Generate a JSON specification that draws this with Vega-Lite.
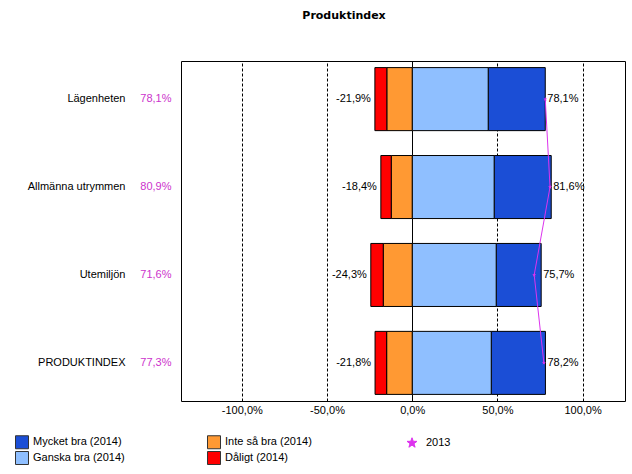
{
  "$schema": "https://vega.github.io/schema/vega-lite/v6.json",
  "autosize": "none",
  "width": 444,
  "height": 340,
  "padding": {"left": 181, "top": 61, "right": 7, "bottom": 73},
  "title": {"text": "Produktindex", "font": "DejaVu Sans", "fontSize": 11, "fontWeight": "bold", "anchor": "middle", "frame": "group", "dx": -59, "offset": 40, "color": "black"},
  "config": {
    "locale": {"number": {"decimal": ",", "thousands": " ", "grouping": [3], "currency": ["", " kr"], "minus": "-"}},
    "view": {"stroke": "black", "strokeWidth": 1},
    "font": "Liberation Sans",
    "axis": {"labelFont": "Liberation Sans", "labelFontSize": 11, "labelColor": "black"},
    "legend": {"labelFont": "Liberation Sans", "labelFontSize": 11, "labelColor": "black"}
  },
  "datasets": {
    "segs": [
      {"cat": "Lägenheten", "grade": "Mycket bra (2014)", "v": 0.335, "o": 2},
      {"cat": "Lägenheten", "grade": "Ganska bra (2014)", "v": 0.446, "o": 1},
      {"cat": "Lägenheten", "grade": "Inte så bra (2014)", "v": -0.149, "o": 1},
      {"cat": "Lägenheten", "grade": "Dåligt (2014)", "v": -0.070, "o": 2},
      {"cat": "Allmänna utrymmen", "grade": "Mycket bra (2014)", "v": 0.335, "o": 2},
      {"cat": "Allmänna utrymmen", "grade": "Ganska bra (2014)", "v": 0.481, "o": 1},
      {"cat": "Allmänna utrymmen", "grade": "Inte så bra (2014)", "v": -0.123, "o": 1},
      {"cat": "Allmänna utrymmen", "grade": "Dåligt (2014)", "v": -0.061, "o": 2},
      {"cat": "Utemiljön", "grade": "Mycket bra (2014)", "v": 0.264, "o": 2},
      {"cat": "Utemiljön", "grade": "Ganska bra (2014)", "v": 0.493, "o": 1},
      {"cat": "Utemiljön", "grade": "Inte så bra (2014)", "v": -0.170, "o": 1},
      {"cat": "Utemiljön", "grade": "Dåligt (2014)", "v": -0.073, "o": 2},
      {"cat": "PRODUKTINDEX", "grade": "Mycket bra (2014)", "v": 0.318, "o": 2},
      {"cat": "PRODUKTINDEX", "grade": "Ganska bra (2014)", "v": 0.464, "o": 1},
      {"cat": "PRODUKTINDEX", "grade": "Inte så bra (2014)", "v": -0.150, "o": 1},
      {"cat": "PRODUKTINDEX", "grade": "Dåligt (2014)", "v": -0.068, "o": 2}
    ],
    "tot": [
      {"cat": "Lägenheten", "rank": 1, "neg": -0.219, "pos": 0.781, "y2013": 0.781},
      {"cat": "Allmänna utrymmen", "rank": 2, "neg": -0.184, "pos": 0.816, "y2013": 0.809},
      {"cat": "Utemiljön", "rank": 3, "neg": -0.243, "pos": 0.757, "y2013": 0.716},
      {"cat": "PRODUKTINDEX", "rank": 4, "neg": -0.218, "pos": 0.782, "y2013": 0.773}
    ]
  },
  "layer": [
    {
      "encoding": {
        "y": {"field": "cat", "type": "nominal",
              "sort": ["Lägenheten", "Allmänna utrymmen", "Utemiljön", "PRODUKTINDEX"],
              "scale": {"paddingInner": 0.283, "paddingOuter": 0.075},
              "axis": {"orient": "left", "title": null, "ticks": false, "tickSize": 0, "domain": false, "grid": false, "labelPadding": 56}}
      },
      "layer": [
        {
          "data": {"name": "segs"},
          "mark": {"type": "bar", "stroke": "black", "strokeWidth": 1},
          "encoding": {
            "x": {"field": "v", "type": "quantitative", "stack": "zero",
                  "scale": {"domain": [-1.357, 1.249], "nice": false, "zero": false},
                  "axis": {"title": null, "values": [-1, -0.5, 0, 0.5, 1], "format": ".1%", "ticks": false, "domain": false,
                           "labelPadding": 3, "grid": true, "gridColor": "black", "gridOpacity": 1, "gridWidth": 1,
                           "gridDash": {"condition": {"test": "datum.value === 0", "value": []}, "value": [3, 2]}}},
            "color": {"field": "grade", "type": "nominal",
                      "scale": {"domain": ["Mycket bra (2014)", "Inte så bra (2014)", "Ganska bra (2014)", "Dåligt (2014)"],
                                "range": ["#1b4ed6", "#ff9933", "#8fbfff", "#ff0000"]},
                      "legend": {"title": null, "orient": "none", "legendX": -166, "legendY": 374, "columns": 2, "direction": "horizontal",
                                 "symbolType": "square", "symbolSize": 169, "symbolStrokeColor": "#333333", "symbolStrokeWidth": 1,
                                 "columnPadding": 80, "rowPadding": -2, "labelOffset": 4, "padding": 0}},
            "order": {"field": "o", "type": "quantitative"}
          }
        },
        {
          "data": {"name": "tot"},
          "mark": {"type": "text", "align": "right", "dx": -4, "fontSize": 11, "color": "black", "font": "Liberation Sans"},
          "encoding": {
            "x": {"field": "neg", "type": "quantitative"},
            "text": {"field": "neg", "type": "quantitative", "format": ".1%"}
          }
        },
        {
          "data": {"name": "tot"},
          "mark": {"type": "text", "align": "left", "dx": 2, "fontSize": 11, "color": "black", "font": "Liberation Sans"},
          "encoding": {
            "x": {"field": "pos", "type": "quantitative"},
            "text": {"field": "pos", "type": "quantitative", "format": ".1%"}
          }
        }
      ]
    },
    {
      "data": {"name": "tot"},
      "mark": {"type": "line", "strokeWidth": 1,
               "point": {"filled": true, "size": 18, "shape": "M0,-1L0.24,-0.33L0.95,-0.31L0.38,0.12L0.59,0.81L0,0.4L-0.59,0.81L-0.38,0.12L-0.95,-0.31L-0.24,-0.33Z"}},
      "encoding": {
        "x": {"field": "y2013", "type": "quantitative"},
        "y": {"field": "y2013", "type": "nominal", "sort": {"field": "rank", "op": "min"},
              "scale": {"type": "band", "paddingInner": 0.283, "paddingOuter": 0.075},
              "axis": {"orient": "left", "title": null, "ticks": false, "tickSize": 0, "domain": false, "grid": false,
                       "labelPadding": 10, "labelColor": "#cc33cc", "labelExpr": "format(datum.value, '.1%')"}},
        "order": {"field": "rank", "type": "quantitative"},
        "color": {"datum": "2013",
                  "scale": {"domain": ["2013"], "range": ["#dd33ee"]},
                  "legend": {"title": null, "orient": "none", "legendX": 225, "legendY": 376, "padding": 0,
                             "symbolType": "M0,-1L0.24,-0.33L0.95,-0.31L0.38,0.12L0.59,0.81L0,0.4L-0.59,0.81L-0.38,0.12L-0.95,-0.31L-0.24,-0.33Z",
                             "symbolSize": 110, "symbolFillColor": "#dd33ee", "symbolStrokeColor": "#dd33ee", "symbolStrokeWidth": 1, "labelOffset": 8}}
      }
    }
  ],
  "resolve": {"scale": {"y": "independent", "color": "independent"}, "axis": {"y": "independent"}}
}
